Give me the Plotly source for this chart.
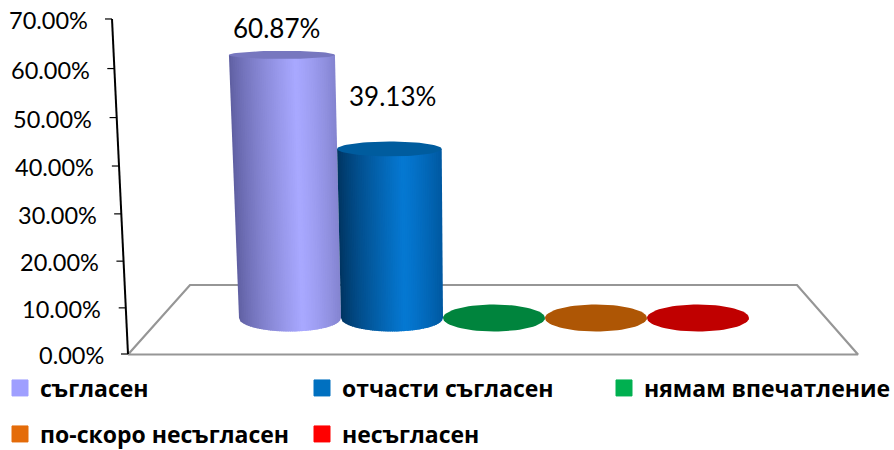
import math
import plotly.graph_objects as go

categories = ["съгласен", "отчасти съгласен", "нямам впечатление", "по-скоро несъгласен", "несъгласен"]
values = [60.87, 39.13, 0, 0, 0]
value_labels = ["60.87%", "39.13%"]
tick_values = [0, 10, 20, 30, 40, 50, 60, 70]
tick_labels = ["0.00%", "10.00%", "20.00%", "30.00%", "40.00%", "50.00%", "60.00%", "70.00%"]
legend_groups = ["legend", "legend", "legend2", "legend3", "legend3"]
legend_colors = ["#9f9fff", "#0070c0", "#00b050", "#e46c0a", "#ff0000"]
top_colors = ["#7777bf", "#005c9e", "#00843d", "#ae5605", "#c00000"]
shade_dark = ["#5e5ea0", "#00335f"]
shade_light = ["#a8a8ff", "#0578d2"]
shade_right = ["#8484d0", "#0058a0"]

FONT = "Lato, Carlito, 'Open Sans', sans-serif"
LEGEND_FONT = "'Open Sans', sans-serif"
PX = 4.786
W, H = 894, 450


def Y(p):
    return (354 - p) / PX


def wall_y(v):
    # slight perspective on the value wall
    return v - 0.0012 * v * (70 - v) * 0.5


def wall_x(v):
    return 128 - v * 16 / 70


def hexrgb(c):
    return [int(c[i:i + 2], 16) for i in (1, 3, 5)]


def mix(a, b, t):
    a, b = hexrgb(a), hexrgb(b)
    return "rgb(%d,%d,%d)" % tuple(round(a[i] + (b[i] - a[i]) * t) for i in range(3))


def shade(i, t):
    if t < 0.62:
        return mix(shade_dark[i], shade_light[i], (t / 0.62) ** 0.8)
    return mix(shade_light[i], shade_right[i], ((t - 0.62) / 0.38) ** 1.3)


fig = go.Figure()

# floor
floor_x = [128, 190, 797, 858, 128]
floor_y = [Y(p) for p in (354.5, 285, 285, 354.5, 354.5)]
fig.add_trace(go.Scatter(x=floor_x, y=floor_y, mode="lines", line=dict(color="#969696", width=2.2),
                         hoverinfo="skip", showlegend=False))

# value wall
fig.add_trace(go.Scatter(x=[wall_x(70), wall_x(0)], y=[wall_y(70), wall_y(0)], mode="lines",
                         line=dict(color="#000000", width=2), hoverinfo="skip", showlegend=False))
for v in tick_values:
    fig.add_trace(go.Scatter(x=[wall_x(v) - 7, wall_x(v)], y=[wall_y(v), wall_y(v)], mode="lines",
                             line=dict(color="#000000", width=1.2), hoverinfo="skip", showlegend=False))


def ellipse(cx, cy, hw, hh, n=72):
    a = [2 * math.pi * k / n for k in range(n + 1)]
    return [cx + hw * math.cos(t) for t in a], [cy + hh * math.sin(t) / PX for t in a]


BASE = Y(318)
SCALE = 0.903
STRIPS = 56
for idx, v in enumerate(values):
    cx = 290 + 102 * idx
    hh_bot = 13.5
    hh_top = 13.5 - 0.155 * v
    hw_bot = 51
    hw_top = 51 + 0.033 * v
    cx_top = cx + (cx - 494) * 6.5e-4 * v
    top = BASE + v * SCALE
    if v > 0:
        for s in range(STRIPS):
            a, b = s / STRIPS, (s + 1.6) / STRIPS
            b = min(b, 1)
            xs, ys = [], []
            for t in (a, b):
                xs.append(cx_top - hw_top + 2 * hw_top * t)
                ys.append(top)
            for t in (b, (a + b) / 2, a):
                u = 2 * t - 1
                xs.append(cx - hw_bot + 2 * hw_bot * t)
                ys.append(BASE - hh_bot * math.sqrt(max(0, 1 - u * u)) / PX)
            c = shade(idx, (s + 0.5) / STRIPS)
            fig.add_trace(go.Scatter(x=xs + xs[:1], y=ys + ys[:1], mode="lines", fill="toself", fillcolor=c,
                                     line=dict(color=c, width=0), hoverinfo="skip", showlegend=False))
    ex, ey = ellipse(cx_top, top, hw_top, hh_top)
    fig.add_trace(go.Scatter(x=ex, y=ey, mode="lines", fill="toself", fillcolor=top_colors[idx],
                             line=dict(color=top_colors[idx], width=0), hoverinfo="skip", showlegend=False))

# legend entries (two rows, as in the reference)
for name, col, grp in zip(categories, legend_colors, legend_groups):
    fig.add_trace(go.Scatter(x=[None], y=[None], mode="markers", name=name,
                             marker=dict(symbol="square", size=16, color=col, line=dict(color=col, width=1)),
                             legend=grp))

annotations = []
for v, lab in zip(tick_values, tick_labels):
    annotations.append(dict(x=wall_x(v) - 22.5, y=wall_y(v), text=lab, showarrow=False, xanchor="right",
                            yanchor="middle", xref="x", yref="y", yshift=-1,
                            font=dict(family=FONT, size=23.5, color="#000000")))
for idx, lab in enumerate(value_labels):
    annotations.append(dict(x=[276, 392][idx], y=BASE + values[idx] * SCALE, text=lab, showarrow=False,
                            xanchor="center", yanchor="bottom", xref="x", yref="y", yshift=[9, 35][idx],
                            font=dict(family=FONT, size=26, color="#000000")))

legend_common = dict(orientation="h", xanchor="left", yanchor="middle", bgcolor="rgba(0,0,0,0)",
                     entrywidth=257, entrywidthmode="pixels", traceorder="normal", itemclick=False,
                     itemdoubleclick=False, font=dict(family=LEGEND_FONT, size=23, color="#000000", weight="bold"))

fig.update_layout(
    width=W, height=H, margin=dict(l=0, r=0, t=0, b=0, autoexpand=False),
    paper_bgcolor="#ffffff", plot_bgcolor="#ffffff",
    xaxis=dict(range=[0, W], visible=False, fixedrange=True),
    yaxis=dict(range=[Y(H), Y(0)], visible=False, fixedrange=True),
    annotations=annotations, hovermode=False,
    legend=dict(x=0.0, y=1 - 388 / H, **legend_common),
    legend2=dict(x=604 / W, y=1 - 388 / H, **legend_common),
    legend3=dict(x=0.0, y=1 - 434 / H, **legend_common),
)
fig.write_html("out.html", config={"displayModeBar": False, "responsive": False},
               post_script="document.body.style.margin='0';")
